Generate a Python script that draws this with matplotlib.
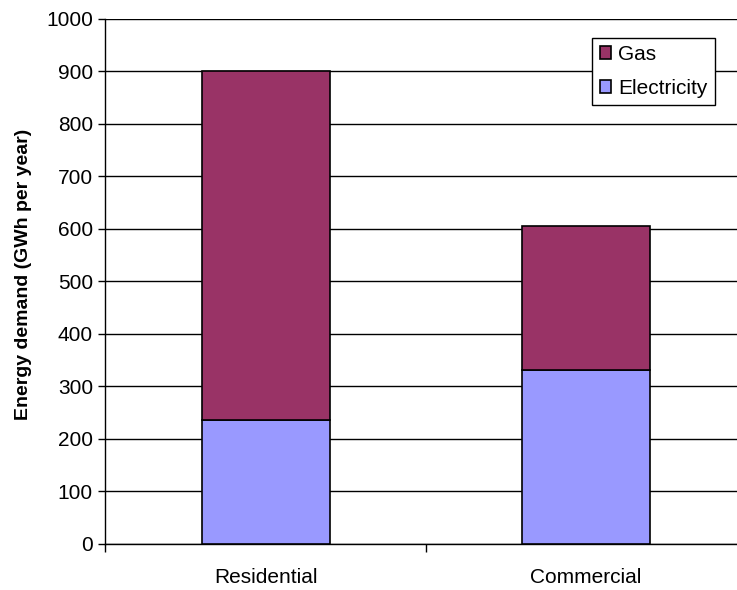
import numpy as np
import matplotlib.pyplot as plt

plt.rcParams['font.family'] = ['Liberation Sans', 'DejaVu Sans']

categories = ['Residential', 'Commercial']
electricity = [236, 331]
gas = [664, 275]

x = np.arange(len(categories))
width = 0.4

fig = plt.figure(figsize=(7.37, 5.9), dpi=100)
ax = fig.add_axes((0.1431, 0.078, 0.869, 0.890))

ax.bar(x, electricity, width, color='#9999FF', edgecolor='black', linewidth=1.2,
       label='Electricity', zorder=3)
ax.bar(x, gas, width, bottom=electricity, color='#993366', edgecolor='black',
       linewidth=1.2, label='Gas', zorder=3)

ax.set_xlim(-0.5, len(categories) - 0.5)
ax.set_ylim(0, 1000)
ax.set_yticks(np.arange(0, 1001, 100))
ax.yaxis.grid(True, color='black', linewidth=1, zorder=0)
ax.tick_params(axis='y', labelsize=15, length=5, width=1, pad=4)

# category labels in the middle, tick marks between categories
ax.set_xticks(np.arange(-0.5, len(categories)), labels=[''] * (len(categories) + 1))
ax.set_xticks(x, labels=categories, minor=True)
ax.tick_params(axis='x', which='major', length=6, width=1)
ax.tick_params(axis='x', which='minor', length=0, labelsize=15, pad=17)

for side in ('top', 'right'):
    ax.spines[side].set_visible(False)
ax.spines['left'].set_linewidth(1)
ax.spines['bottom'].set_linewidth(1)

ax.set_ylabel('Energy demand (GWh per year)', fontsize=14, fontweight='bold')
ax.yaxis.set_label_coords(-0.115, 0.513)

handles, labels = ax.get_legend_handles_labels()
leg = ax.legend(handles[::-1], labels[::-1], loc='upper left',
                bbox_to_anchor=(0.760, 0.964), fontsize=15, frameon=True,
                fancybox=False, edgecolor='black', framealpha=1,
                handlelength=0.57, handleheight=0.57, handletextpad=0.33,
                borderpad=0.35, labelspacing=0.72, borderaxespad=0)
leg.get_frame().set_linewidth(1)

fig.savefig('out.png', dpi=100)
